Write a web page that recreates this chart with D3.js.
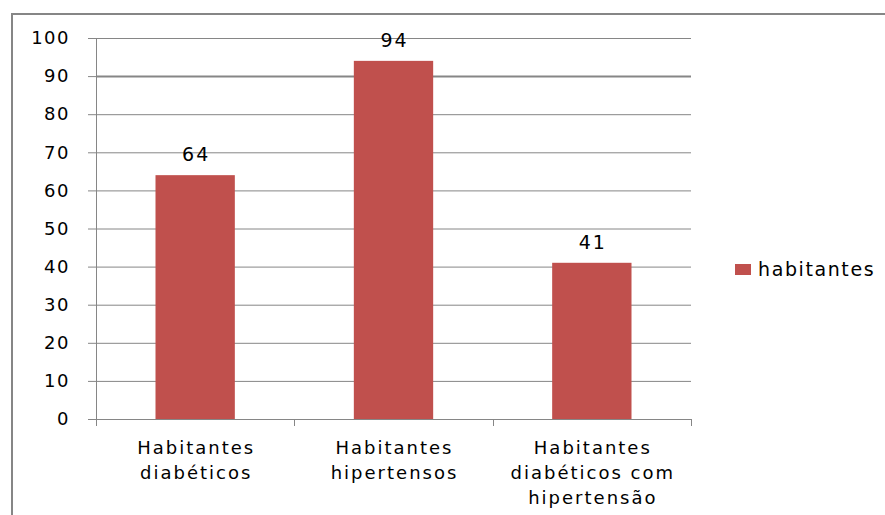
<!DOCTYPE html>
<html>
<head>
<meta charset="utf-8">
<script src="https://cdn.jsdelivr.net/npm/d3@7"></script>
<style>
  body { margin: 0; background: #fff; }
  text { font-family: "DejaVu Sans", sans-serif; fill: #000; }
</style>
</head>
<body>
<div id="chart"></div>
<script>
const categories = [
  ["Habitantes", "diabéticos"],
  ["Habitantes", "hipertensos"],
  ["Habitantes", "diabéticos com", "hipertensão"],
];
const values = [64, 94, 41];
const yTicks = [0, 10, 20, 30, 40, 50, 60, 70, 80, 90, 100];
const seriesName = "habitantes";

const width = 885;
const height = 515;
const plot = { left: 96, right: 691, top: 38, bottom: 419 };
const barColor = "#C0504D";
const gridColor = "#868686";

const svg = d3.select("#chart")
  .append("svg")
  .attr("width", width)
  .attr("height", height);

// outer frame of the chart area
svg.append("rect")
  .attr("x", 12)
  .attr("y", 14)
  .attr("width", 900)
  .attr("height", 540)
  .attr("fill", "#fff")
  .attr("stroke", gridColor)
  .attr("stroke-width", 2);

const x = d3.scaleBand()
  .domain(d3.range(values.length))
  .range([plot.left, plot.right])
  .paddingInner(0.6)
  .paddingOuter(0.3);

const y = d3.scaleLinear()
  .domain([0, 100])
  .range([plot.bottom, plot.top]);

// gridlines + y labels
const yAxis = svg.append("g")
  .attr("transform", `translate(${plot.left},0)`)
  .call(d3.axisLeft(y).tickValues(yTicks).tickSize(8).tickPadding(18));
yAxis.select(".domain").attr("stroke", gridColor);
yAxis.selectAll(".tick line").attr("stroke", gridColor);
yAxis.selectAll(".tick text")
  .style("font-size", "18px")
  .style("letter-spacing", "1.5px")
  .attr("fill", "#000");

svg.append("g")
  .selectAll("line")
  .data(yTicks.filter((d) => d > 0))
  .join("line")
  .attr("x1", plot.left)
  .attr("x2", plot.right)
  .attr("y1", (d) => y(d) + 0.5)
  .attr("y2", (d) => y(d) + 0.5)
  .attr("stroke", gridColor)
  .attr("stroke-width", (d) => (d === 90 ? 2 : 1));

// bars
svg.append("g")
  .selectAll("rect")
  .data(values)
  .join("rect")
  .attr("x", (d, i) => x(i))
  .attr("y", (d) => y(d))
  .attr("width", x.bandwidth())
  .attr("height", (d) => y(0) - y(d))
  .attr("fill", barColor);

// value labels
svg.append("g")
  .selectAll("text")
  .data(values)
  .join("text")
  .attr("x", (d, i) => x(i) + x.bandwidth() / 2 + 1)
  .attr("y", (d) => y(d) - 14)
  .attr("text-anchor", "middle")
  .style("font-size", "19px")
  .style("letter-spacing", "2px")
  .text((d) => d);

// x axis baseline and ticks at band boundaries
const edges = d3.range(values.length + 1).map((i) => plot.left + i * (plot.right - plot.left) / values.length);
svg.append("line")
  .attr("x1", plot.left)
  .attr("x2", plot.right)
  .attr("y1", plot.bottom + 0.5)
  .attr("y2", plot.bottom + 0.5)
  .attr("stroke", gridColor);
svg.append("g")
  .selectAll("line")
  .data(edges)
  .join("line")
  .attr("x1", (d) => Math.round(d) + 0.5)
  .attr("x2", (d) => Math.round(d) + 0.5)
  .attr("y1", plot.bottom)
  .attr("y2", plot.bottom + 7)
  .attr("stroke", gridColor);

// category labels
const cat = svg.append("g")
  .selectAll("text")
  .data(categories)
  .join("text")
  .attr("x", (d, i) => x(i) + x.bandwidth() / 2 + 1)
  .attr("y", 454)
  .attr("text-anchor", "middle")
  .style("font-size", "18px")
  .style("letter-spacing", "2px");
cat.selectAll("tspan")
  .data((d) => d)
  .join("tspan")
  .attr("x", function () { return d3.select(this.parentNode).attr("x"); })
  .attr("dy", (d, i) => (i === 0 ? 0 : 25))
  .text((d) => d);

// legend
const legend = svg.append("g").attr("transform", "translate(735,264)");
legend.append("rect")
  .attr("width", 16)
  .attr("height", 11)
  .attr("fill", barColor);
legend.append("text")
  .attr("x", 23)
  .attr("y", 12)
  .style("font-size", "19px")
  .style("letter-spacing", "1.6px")
  .text(seriesName);
</script>
</body>
</html>
